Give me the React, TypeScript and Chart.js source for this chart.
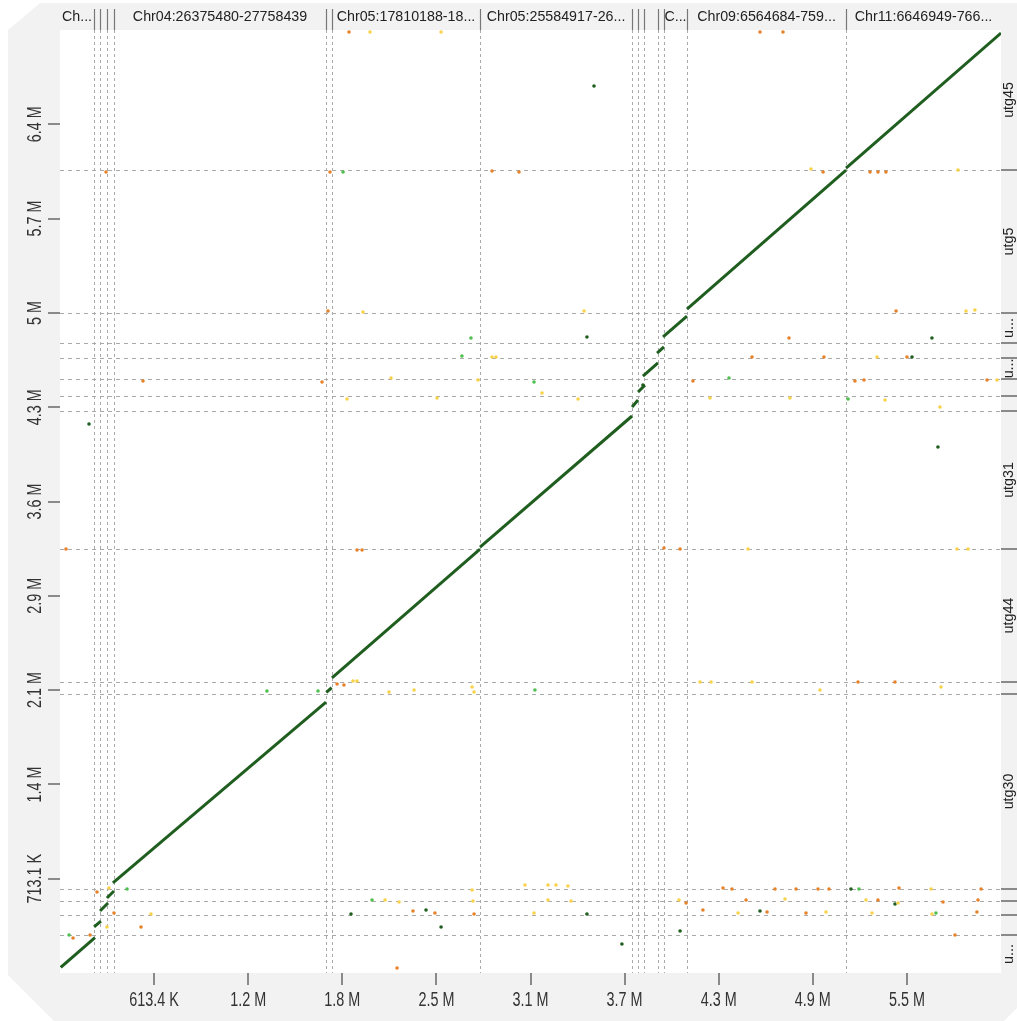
import React, { useEffect, useRef } from "react";
import { Chart, registerables } from "chart.js";

Chart.register(...registerables);

// ---- axis extents (kb) ----
const X_TOTAL = 6134;
const Y_TOTAL = 7131;

// ---- tick values (kb) and labels ----
const xTickValues = [613.4, 1226.8, 1840.2, 2453.6, 3067.0, 3680.4, 4293.8, 4907.2, 5520.6];
const xTickLabels = ["613.4 K", "1.2 M", "1.8 M", "2.5 M", "3.1 M", "3.7 M", "4.3 M", "4.9 M", "5.5 M"];
const yTickValues = [713.1, 1426.2, 2139.3, 2852.4, 3565.5, 4278.6, 4991.7, 5704.8, 6417.9];
const yTickLabels = ["713.1 K", "1.4 M", "2.1 M", "2.9 M", "3.6 M", "4.3 M", "5 M", "5.7 M", "6.4 M"];

// ---- contig boundaries (kb) and names ----
const xBoundaries = [222, 261, 306, 352, 1734, 1773, 2738, 3729, 3768, 3807, 3898, 3937, 4087, 5124];
const xContigLabels = [
  "Ch...", "", "", "", "Chr04:26375480-27758439", "", "Chr05:17810188-18...",
  "Chr05:25584917-26...", "", "", "", "", "C...", "Chr09:6564684-759...", "Chr11:6646949-766...",
];
const yBoundaries = [287, 439, 544, 635, 2110, 2200, 3206, 4250, 4363, 4492, 4651, 4764, 4991, 6072];
const yContigLabels = [
  "u...", "", "", "", "utg30", "", "utg44", "utg31", "", "", "u...", "", "u...", "utg5", "utg45",
];

// ---- main alignments (kb) ----
const segX0 = [5, 222, 261, 306, 345, 1736, 1773, 2738, 3729, 3768, 3800, 3892, 3931, 4087, 5124];
const segX1 = [228, 267, 313, 352, 1734, 1771, 2738, 3729, 3768, 3813, 3898, 3937, 4087, 5124, 6134];
const segY0 = [43, 348, 469, 567, 681, 2122, 2231, 3221, 4280, 4394, 4514, 4688, 4810, 5021, 6087];
const segY1 = [268, 393, 529, 620, 2049, 2157, 3206, 4212, 4333, 4446, 4613, 4734, 4968, 6072, 7108];

// ---- small matches by identity class (kb) ----
const darkX = [3481, 3435, 5684, 5554, 189, 5723, 5156, 1897, 2386, 3435, 4563, 5443, 2484, 4042, 3663, 3800];
const darkY = [6707, 4809, 4802, 4658, 4152, 3978, 635, 446, 476, 446, 469, 522, 348, 318, 219, 4446];

const greenX = [1845, 2679, 2620, 3090, 4361, 5137, 1349, 1682, 3096, 5208, 2034, 5710, 437, 59];
const greenY = [6057, 4802, 4666, 4469, 4499, 4341, 2132, 2132, 2140, 635, 552, 454, 635, 287];

const orangeX = [
  1884, 4563, 4713, 300, 1760, 2816, 2992, 4974, 5280, 5332, 5384, 1747, 5450, 4752, 4511, 4980,
  5521, 541, 1708, 4126, 5182, 5241, 6043, 39, 1936, 1969, 3937, 4042, 1806, 1851, 5202, 5443,
  241, 352, 528, 196, 85, 4322, 4380, 4661, 4798, 4941, 5013, 5469, 6004, 4081, 4472, 5332,
  5756, 5984, 2301, 2444, 2699, 4191, 4609, 4863, 5977, 5834, 2197,
];
const orangeY = [
  7116, 7116, 7116, 6057, 6057, 6065, 6057, 6057, 6057, 6057, 6057, 5006, 5006, 4802, 4658, 4658,
  4658, 4477, 4469, 4477, 4477, 4484, 4484, 3206, 3199, 3199, 3214, 3206, 2185, 2178, 2200, 2200,
  613, 454, 348, 287, 265, 643, 635, 635, 635, 635, 635, 643, 635, 529, 552, 552,
  537, 552, 469, 454, 446, 476, 461, 454, 461, 287, 38,
];

const yellowX = [
  2021, 2484, 4895, 5854, 1975, 3416, 5906, 5964, 2816, 2842, 5326, 2158, 2725, 6108, 1871, 2458,
  3142, 3377, 4237, 4758, 5378, 5736, 4485, 5847, 5919, 1910, 1936, 2145, 2308, 2686, 2699, 4172,
  4244, 4511, 4954, 5743, 319, 306, 593, 3031, 3181, 3233, 3311, 2686, 5678, 2119, 2210, 2692,
  3181, 3331, 4035, 4726, 5254, 5463, 3090, 4420, 4993, 5293, 5684,
];
const yellowY = [
  7116, 7116, 6080, 6072, 4998, 5006, 5006, 5014, 4658, 4658, 4658, 4499, 4484, 4484, 4341, 4348,
  4386, 4341, 4348, 4348, 4333, 4280, 3206, 3206, 3206, 2208, 2208, 2125, 2140, 2163, 2125, 2200,
  2200, 2200, 2140, 2163, 643, 348, 446, 665, 665, 665, 658, 628, 635, 552, 537, 544,
  552, 544, 552, 560, 552, 529, 454, 454, 461, 454, 446,
];

const LINE_COLOR = "#1f5e1f";
const DARK_COLOR = "#1f5e1f";
const GREEN_COLOR = "#4fbf4f";
const ORANGE_COLOR = "#e8822a";
const YELLOW_COLOR = "#f8d34a";

const W = 1017;
const H = 1021;

function pts(xs: number[], ys: number[]) {
  return xs.map((x, i) => ({ x, y: ys[i] }));
}

function drawText(
  ctx: CanvasRenderingContext2D,
  text: string,
  x: number,
  y: number,
  rot: number,
  size: number,
  sx: number,
  color: string
) {
  ctx.save();
  ctx.translate(x, y);
  ctx.rotate(rot);
  ctx.scale(sx, 1);
  ctx.font = `${size}px "Liberation Sans", Arial, sans-serif`;
  ctx.fillStyle = color;
  ctx.textAlign = "center";
  ctx.textBaseline = "middle";
  ctx.fillText(text, 0, 0);
  ctx.restore();
}

const framePlugin = {
  id: "dotplotFrame",
  beforeDraw(chart: any) {
    const { ctx, chartArea } = chart;
    ctx.save();
    ctx.fillStyle = "#f2f2f2";
    ctx.beginPath();
    ctx.moveTo(8, 30);
    ctx.lineTo(40, 3);
    ctx.lineTo(W, 3);
    ctx.lineTo(W, 1008);
    ctx.lineTo(1004, H);
    ctx.lineTo(54, H);
    ctx.lineTo(8, 975);
    ctx.closePath();
    ctx.fill();
    ctx.fillStyle = "#ffffff";
    ctx.fillRect(chartArea.left, chartArea.top, chartArea.right - chartArea.left, chartArea.bottom - chartArea.top);
    ctx.restore();
  },
  beforeDatasetsDraw(chart: any) {
    const { ctx, chartArea, scales } = chart;
    const xs = scales.x;
    const ys = scales.y;
    ctx.save();
    ctx.strokeStyle = "#aaaaaa";
    ctx.lineWidth = 1;
    ctx.setLineDash([3, 3]);
    xBoundaries.forEach((b) => {
      const px = Math.round(xs.getPixelForValue(b)) + 0.5;
      ctx.beginPath();
      ctx.moveTo(px, chartArea.top);
      ctx.lineTo(px, chartArea.bottom);
      ctx.stroke();
    });
    ctx.setLineDash([4, 4]);
    yBoundaries.forEach((b) => {
      const py = Math.round(ys.getPixelForValue(b)) + 0.5;
      ctx.beginPath();
      ctx.moveTo(chartArea.left, py);
      ctx.lineTo(chartArea.right, py);
      ctx.stroke();
    });
    ctx.restore();
  },
  afterDraw(chart: any) {
    const { ctx, chartArea, scales } = chart;
    const xs = scales.x;
    const ys = scales.y;
    ctx.save();
    // header separators
    ctx.strokeStyle = "#777777";
    ctx.lineWidth = 1.2;
    xBoundaries.forEach((b) => {
      const px = Math.round(xs.getPixelForValue(b)) + 0.5;
      ctx.beginPath();
      ctx.moveTo(px, 9);
      ctx.lineTo(px, chartArea.top);
      ctx.stroke();
    });
    // right separators
    ctx.strokeStyle = "#8a8a8a";
    ctx.lineWidth = 2;
    yBoundaries.forEach((b) => {
      const py = Math.round(ys.getPixelForValue(b));
      ctx.beginPath();
      ctx.moveTo(chartArea.right, py);
      ctx.lineTo(W, py);
      ctx.stroke();
    });
    ctx.restore();

    // header contig names
    const xEdges = [0, ...xBoundaries, X_TOTAL];
    xContigLabels.forEach((lab, i) => {
      if (!lab) return;
      const mid = (xs.getPixelForValue(xEdges[i]) + xs.getPixelForValue(xEdges[i + 1])) / 2;
      drawText(ctx, lab, mid, 17, 0, 15, 0.95, "#222222");
    });
    // right contig names (rotated, reading bottom to top)
    const yEdges = [0, ...yBoundaries, Y_TOTAL];
    yContigLabels.forEach((lab, i) => {
      if (!lab) return;
      const mid = (ys.getPixelForValue(yEdges[i]) + ys.getPixelForValue(yEdges[i + 1])) / 2;
      drawText(ctx, lab, 1009, mid, -Math.PI / 2, 15, 0.95, "#222222");
    });
    // axis tick labels
    xTickValues.forEach((v, i) => {
      drawText(ctx, xTickLabels[i], xs.getPixelForValue(v), 1000, 0, 20, 0.72, "#333333");
    });
    yTickValues.forEach((v, i) => {
      drawText(ctx, yTickLabels[i], 35, ys.getPixelForValue(v), -Math.PI / 2, 20, 0.72, "#333333");
    });
  },
};

export default function App() {
  const ref = useRef<HTMLCanvasElement | null>(null);

  useEffect(() => {
    const canvas = ref.current;
    if (!canvas) return;

    const segDatasets = segX0.map((x0, i) => ({
      type: "line" as const,
      data: [
        { x: x0, y: segY0[i] },
        { x: segX1[i], y: segY1[i] },
      ],
      showLine: true,
      borderColor: LINE_COLOR,
      borderWidth: 3,
      pointRadius: 0,
      pointHoverRadius: 0,
      fill: false,
      order: 2,
    }));

    const dot = (xs: number[], ys: number[], color: string, r: number) => ({
      type: "scatter" as const,
      data: pts(xs, ys),
      backgroundColor: color,
      borderWidth: 0,
      pointRadius: r,
      pointHoverRadius: r,
      order: 1,
    });

    const chart = new Chart(canvas, {
      type: "scatter",
      data: {
        datasets: [
          ...segDatasets,
          dot(yellowX, yellowY, YELLOW_COLOR, 1.8),
          dot(orangeX, orangeY, ORANGE_COLOR, 1.8),
          dot(greenX, greenY, GREEN_COLOR, 1.8),
          dot(darkX, darkY, DARK_COLOR, 1.8),
        ] as any,
      },
      options: {
        responsive: false,
        animation: false,
        events: [],
        layout: { padding: { top: 30, right: 16, left: 0, bottom: 0 } },
        plugins: { legend: { display: false }, tooltip: { enabled: false } },
        scales: {
          x: {
            type: "linear",
            position: "bottom",
            min: 0,
            max: X_TOTAL,
            border: { display: false },
            grid: {
              display: true,
              drawOnChartArea: false,
              drawTicks: true,
              tickLength: 12,
              color: "#8a8a8a",
              lineWidth: 2,
            },
            ticks: { display: false },
            afterBuildTicks: (s: any) => {
              s.ticks = xTickValues.map((v) => ({ value: v }));
            },
            afterFit: (s: any) => {
              s.height = 48;
            },
          },
          y: {
            type: "linear",
            position: "left",
            min: 0,
            max: Y_TOTAL,
            border: { display: false },
            grid: {
              display: true,
              drawOnChartArea: false,
              drawTicks: true,
              tickLength: 12,
              color: "#8a8a8a",
              lineWidth: 2,
            },
            ticks: { display: false },
            afterBuildTicks: (s: any) => {
              s.ticks = yTickValues.map((v) => ({ value: v }));
            },
            afterFit: (s: any) => {
              s.width = 60;
            },
          },
        },
      } as any,
      plugins: [framePlugin],
    });

    return () => chart.destroy();
  }, []);

  return (
    <canvas
      ref={ref}
      width={W}
      height={H}
      style={{ position: "absolute", left: 0, top: 0, width: W, height: H, display: "block" }}
    />
  );
}
